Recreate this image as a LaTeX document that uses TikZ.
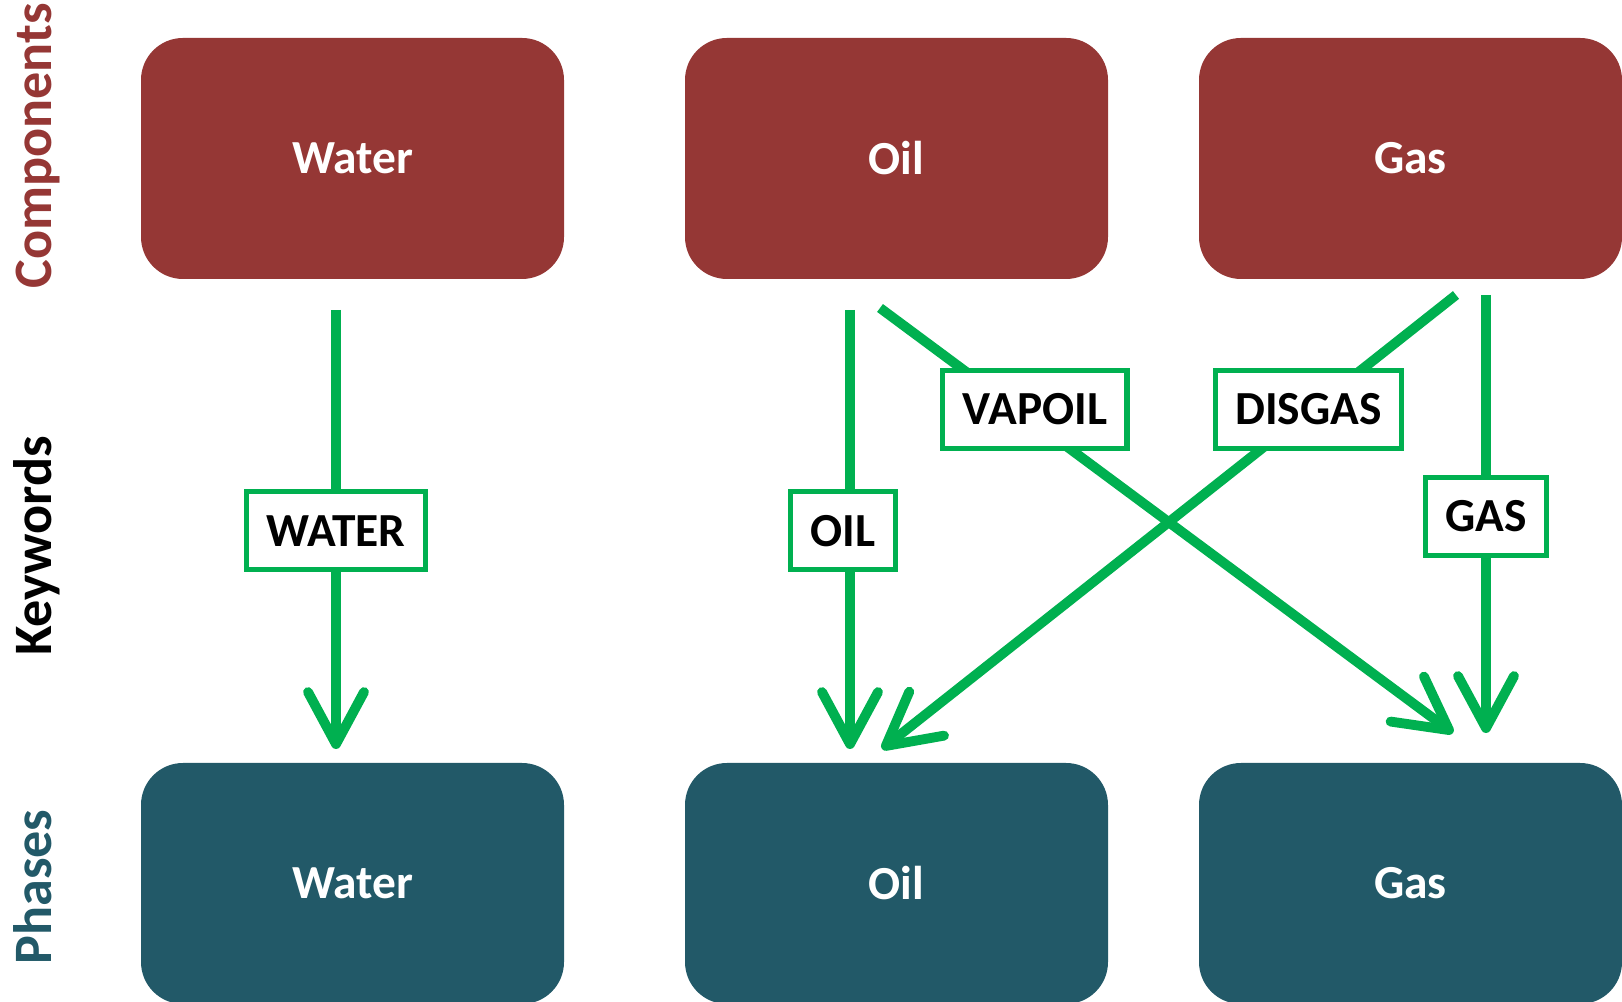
\documentclass[tikz,border=0pt]{standalone}
\usepackage{fontspec}
\setmainfont{Carlito}
\usetikzlibrary{arrows.meta}
\definecolor{comprd}{RGB}{149,55,53}
\definecolor{phteal}{RGB}{34,89,104}
\definecolor{kwgreen}{RGB}{0,176,80}
\begin{document}
\begin{tikzpicture}[font=\bfseries,
	compbox/.style={fill=comprd,rounded corners=0.42cm,minimum width=4.23cm,minimum height=2.41cm,text=white,font=\fontsize{13.5}{16}\selectfont\bfseries},
	phbox/.style={compbox,fill=phteal},
	kwbox/.style={draw=kwgreen,line width=1.5pt,fill=white,inner xsep=0.2cm,minimum height=0.78cm,text=black,font=\fontsize{13.5}{16}\selectfont\bfseries},
	side/.style={rotate=90,anchor=base,font=\fontsize{15.4}{18}\selectfont\bfseries},
	flow/.style={draw=kwgreen,line width=2.8pt,-{Straight Barb[length=5.2mm,width=5.6mm,round]}}]
	\clip (0,0) rectangle (16.22,10.02);
	% rows
	\node[side,text=comprd] (tcomp) at (0.52,8.56) {Components};
	\node[side] (tkey) at (0.52,4.56) {Keywords};
	\node[side,text=phteal] (tphase) at (0.52,1.15) {Phases};
	% components
	\node[compbox] (cwater) at (3.525,8.435) {Water};
	\node[compbox] (coil) at (8.965,8.435) {Oil};
	\node[compbox] (cgas) at (14.105,8.435) {Gas};
	% phases
	\node[phbox] (pwater) at (3.525,1.185) {Water};
	\node[phbox] (poil) at (8.965,1.185) {Oil};
	\node[phbox] (pgas) at (14.105,1.185) {Gas};
	% arrow ends
	\coordinate (w1) at (3.36,6.92); \coordinate (w2) at (3.36,2.53);
	\coordinate (o1) at (8.50,6.92); \coordinate (o2) at (8.50,2.53);
	\coordinate (g1) at (14.86,7.07); \coordinate (g2) at (14.86,2.69);
	\coordinate (v1) at (8.80,6.94); \coordinate (v2) at (14.53,2.69);
	\coordinate (d1) at (14.56,7.07); \coordinate (d2) at (8.82,2.53);
	% keywords
	\draw[flow] (w1) -- node[kwbox,pos=0.503] (kwater) {WATER} (w2);
	\draw[flow] (o1) -- node[kwbox,pos=0.503,xshift=-0.07cm] (koil) {OIL} (o2);
	\draw[flow] (g1) -- node[kwbox,pos=0.505] (kgas) {GAS} (g2);
	\draw[flow] (v1) -- node[kwbox,pos=0.239,xshift=0.18cm] (kvapoil) {VAPOIL} (v2);
	\draw[flow] (d1) -- node[kwbox,pos=0.252,xshift=-0.03cm] (kdisgas) {DISGAS} (d2);
\end{tikzpicture}
\end{document}
